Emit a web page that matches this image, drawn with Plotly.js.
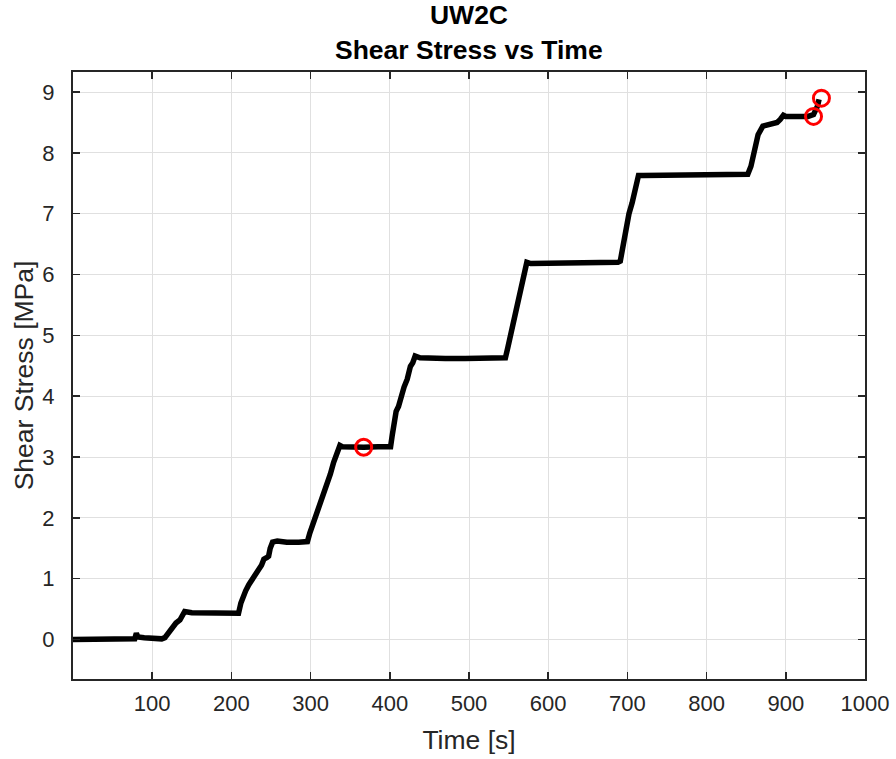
<!DOCTYPE html>
<html>
<head>
<meta charset="utf-8">
<script src="https://cdn.plot.ly/plotly-3.0.1.min.js"></script>
<style>
  html, body { margin: 0; padding: 0; background: #ffffff; }
  #chart { width: 896px; height: 759px; }
</style>
</head>
<body>
<div id="chart"></div>
<script>
// Shear stress record for specimen UW2C
const timeSec = [
  0, 20, 40, 60, 78, 80, 82, 90, 100, 112,
  116, 120, 125, 130, 135, 138, 141, 150, 170, 190,
  209, 212, 215, 218, 222, 228, 233, 238, 241, 245,
  247, 249, 252, 258, 270, 285, 296, 299, 302, 306,
  312, 317, 321, 325, 329, 333, 337, 340, 350, 367,
  385, 401, 403, 405, 408, 411, 415, 418, 422, 426,
  429, 432, 438, 448, 470, 495, 520, 546, 549, 552,
  555, 558, 562, 565, 569, 573, 578, 586, 610, 640,
  665, 688, 691, 695, 699, 702, 706, 710, 714, 720,
  740, 770, 800, 830, 852, 856, 859, 861, 865, 871,
  880, 889, 893, 897, 900, 905, 915, 928, 935, 940,
  942
];
const shearStress = [
  0.00, 0.00, 0.01, 0.00, 0.01, 0.10, 0.04, 0.03, 0.02, 0.01,
  0.03, 0.10, 0.20, 0.27, 0.32, 0.38, 0.46, 0.44, 0.43, 0.42,
  0.43, 0.60, 0.72, 0.80, 0.90, 1.00, 1.12, 1.22, 1.32, 1.35,
  1.37, 1.50, 1.60, 1.62, 1.60, 1.60, 1.61, 1.75, 1.86, 2.00,
  2.25, 2.40, 2.58, 2.72, 2.91, 3.05, 3.19, 3.17, 3.16, 3.16,
  3.17, 3.17, 3.35, 3.57, 3.75, 3.83, 4.06, 4.15, 4.28, 4.49,
  4.55, 4.66, 4.63, 4.62, 4.62, 4.62, 4.62, 4.63, 4.80, 4.98,
  5.15, 5.38, 5.55, 5.76, 6.04, 6.20, 6.18, 6.18, 6.19, 6.20,
  6.20, 6.20, 6.22, 6.53, 6.87, 7.00, 7.18, 7.40, 7.63, 7.63,
  7.63, 7.64, 7.64, 7.64, 7.65, 7.78, 7.94, 8.14, 8.30, 8.44,
  8.47, 8.50, 8.55, 8.62, 8.60, 8.60, 8.60, 8.60, 8.63, 8.77,
  8.88
];

// Highlighted points
const markTime = [367, 935, 945];
const markStress = [3.16, 8.60, 8.90];

// Axis ticks
const xTicks = [100, 200, 300, 400, 500, 600, 700, 800, 900, 1000];
const yTicks = [0, 1, 2, 3, 4, 5, 6, 7, 8, 9];

const FONT = 'Liberation Sans, Arial, Helvetica, sans-serif';
const AX = '#262626';

const traces = [
  {
    x: timeSec,
    y: shearStress,
    type: 'scatter',
    mode: 'lines',
    line: { color: '#000000', width: 5.5, shape: 'linear' },
    hoverinfo: 'x+y',
    showlegend: false
  },
  {
    x: markTime,
    y: markStress,
    type: 'scatter',
    mode: 'markers',
    marker: {
      symbol: 'circle-open',
      size: 16,
      color: '#ff0000',
      line: { color: '#ff0000', width: 3 }
    },
    showlegend: false
  }
];

const axisCommon = {
  showline: true,
  linecolor: AX,
  linewidth: 2,
  mirror: 'ticks',
  ticks: 'inside',
  ticklen: 7,
  tickwidth: 1.5,
  tickcolor: AX,
  showgrid: true,
  gridcolor: '#e0e0e0',
  gridwidth: 1,
  zeroline: false,
  tickfont: { family: FONT, size: 22, color: AX },
  fixedrange: true
};

const layout = {
  width: 896,
  height: 759,
  paper_bgcolor: '#ffffff',
  plot_bgcolor: '#ffffff',
  margin: { l: 73, r: 31, t: 72, b: 80 },
  font: { family: FONT, color: '#000000' },
  title: {
    text: '<b>UW2C</b>',
    font: { family: FONT, size: 26.5, color: '#000000' },
    x: 0.5,
    xref: 'paper',
    xanchor: 'center',
    y: 1 - 15 / 759,
    yref: 'container',
    yanchor: 'middle'
  },
  annotations: [
    {
      text: '<b>Shear Stress vs Time</b>',
      xref: 'paper', yref: 'paper',
      x: 0.5, y: 1,
      xanchor: 'center', yanchor: 'bottom',
      yshift: 5,
      showarrow: false,
      font: { family: FONT, size: 26.5, color: '#000000' }
    }
  ],
  xaxis: Object.assign({}, axisCommon, {
    range: [0, 1000],
    tickvals: xTicks,
    ticktext: xTicks.map(String),
    ticklabelstandoff: 4,
    title: { text: 'Time [s]', font: { family: FONT, size: 26.5, color: AX }, standoff: 15 }
  }),
  yaxis: Object.assign({}, axisCommon, {
    range: [-0.65, 9.33],
    tickvals: yTicks,
    ticktext: yTicks.map(String),
    ticklabelstandoff: 12,
    title: { text: 'Shear Stress [MPa]', font: { family: FONT, size: 26.5, color: AX }, standoff: 1 }
  })
};

Plotly.newPlot('chart', traces, layout, { staticPlot: true, displayModeBar: false });
</script>
</body>
</html>
